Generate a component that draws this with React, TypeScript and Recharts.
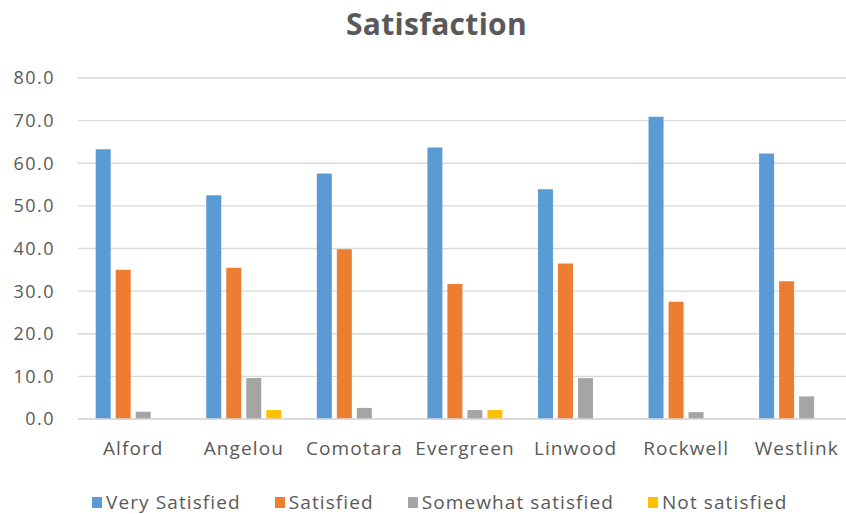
import React from 'react';
import { BarChart, Bar, XAxis, YAxis, CartesianGrid, Legend } from 'recharts';

// Survey results per school (percent of respondents)
const schools = ['Alford', 'Angelou', 'Comotara', 'Evergreen', 'Linwood', 'Rockwell', 'Westlink'];
const verySatisfied = [63.3, 52.5, 57.6, 63.7, 53.9, 70.9, 62.3];
const satisfied = [35.0, 35.5, 39.8, 31.7, 36.5, 27.5, 32.3];
const somewhatSatisfied = [1.7, 9.6, 2.6, 2.1, 9.6, 1.6, 5.3];
const notSatisfied: (number | null)[] = [null, 2.1, null, 2.1, null, null, null];
const yTicks = [0, 10, 20, 30, 40, 50, 60, 70, 80];

const seriesNames = ['Very Satisfied', 'Satisfied', 'Somewhat satisfied', 'Not satisfied'];
const seriesColors = ['#5B9BD5', '#ED7D31', '#A5A5A5', '#FFC000'];
const seriesValues = [verySatisfied, satisfied, somewhatSatisfied, notSatisfied];
const seriesKeys = ['s0', 's1', 's2', 's3'];

const data = schools.map((school, i) => {
  const row: Record<string, string | number | null> = { school };
  seriesKeys.forEach((k, s) => {
    row[k] = seriesValues[s][i];
  });
  return row;
});

const FONT = '"Open Sans", sans-serif';
const TEXT = '#595959';
const GRID = '#d9d9d9';

// Legend keeps the series order instead of sorting by name
const LegendContent = (props: any) => {
  const payload = [...(props.payload || [])].sort(
    (a: any, b: any) => seriesNames.indexOf(a.value) - seriesNames.indexOf(b.value)
  );
  return (
    <div
      style={{
        display: 'flex',
        alignItems: 'center',
        height: 24,
        paddingLeft: 92,
        fontFamily: FONT,
        fontSize: 19,
        letterSpacing: 1.1,
        color: TEXT,
        whiteSpace: 'nowrap',
      }}
    >
      {payload.map((item: any) => (
        <span key={item.value} style={{ display: 'inline-flex', alignItems: 'center', marginRight: 34 }}>
          <span style={{ width: 10, height: 11, background: item.color, marginRight: 4, display: 'inline-block' }} />
          <span>{item.value}</span>
        </span>
      ))}
    </div>
  );
};

export default function App() {
  return (
    <div
      style={{
        position: 'absolute',
        top: 0,
        left: 0,
        width: 846,
        height: 514,
        overflow: 'hidden',
        background: '#fff',
      }}
    >
      <svg width={846} height={60} style={{ position: 'absolute', top: 0, left: 0 }}>
        <text
          x={436.5}
          y={35}
          textAnchor="middle"
          fontFamily={FONT}
          fontWeight={700}
          fontSize={30}
          fill={TEXT}
          letterSpacing={0.3}
        >
          Satisfaction
        </text>
      </svg>
      <div style={{ position: 'absolute', top: 0, left: 0 }}>
        <BarChart
          width={852}
          height={514}
          data={data}
          margin={{ top: 78, right: 0, bottom: 26, left: 0 }}
          barCategoryGap="16%"
          barGap={5}
        >
          <CartesianGrid vertical={false} stroke={GRID} strokeWidth={1.3} />
          <XAxis
            dataKey="school"
            height={45}
            tickLine={false}
            tickSize={0}
            tickMargin={23}
            axisLine={{ stroke: GRID, strokeWidth: 1.3 }}
            tick={{ fill: TEXT, fontSize: 19, fontFamily: FONT, letterSpacing: 1.1 }}
            interval={0}
          />
          <YAxis
            width={78}
            domain={[0, 80]}
            ticks={yTicks}
            tickFormatter={(v: number) => v.toFixed(1)}
            axisLine={false}
            tickLine={false}
            tickSize={0}
            tickMargin={23}
            tick={{ fill: TEXT, fontSize: 18, fontFamily: FONT, letterSpacing: 1.5 }}
            interval={0}
          />
          <Legend
            verticalAlign="bottom"
            content={<LegendContent />}
            wrapperStyle={{ left: 0, bottom: 'auto', top: 490, width: 852, height: 24 }}
          />
          {seriesKeys.map((k, s) => (
            <Bar
              key={k}
              dataKey={k}
              name={seriesNames[s]}
              fill={seriesColors[s]}
              isAnimationActive={false}
            />
          ))}
        </BarChart>
      </div>
    </div>
  );
}
